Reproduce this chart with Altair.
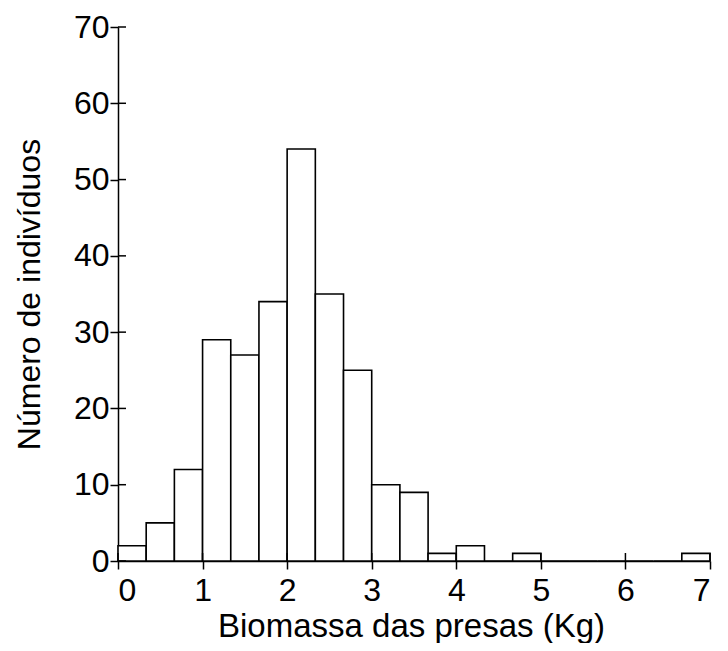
import altair as alt
import pandas as pd

# Histogram bins (width 1/3 kg) and counts
bin_lo = [0, 1/3, 2/3, 1, 4/3, 5/3, 2, 7/3, 8/3, 3, 10/3, 11/3, 4, 13/3, 14/3,
          5, 16/3, 17/3, 6, 19/3, 20/3]
bin_hi = [1/3, 2/3, 1, 4/3, 5/3, 2, 7/3, 8/3, 3, 10/3, 11/3, 4, 13/3, 14/3, 5,
          16/3, 17/3, 6, 19/3, 20/3, 7]
counts = [2, 5, 12, 29, 27, 34, 54, 35, 25, 10, 9, 1, 2, 0, 1,
          0, 0, 0, 0, 0, 1]

x_ticks = [0, 1, 2, 3, 4, 5, 6, 7]
y_ticks = [0, 10, 20, 30, 40, 50, 60, 70]

W, H = 592, 534
FONT = "Liberation Sans"

df = pd.DataFrame({"lo": bin_lo, "hi": bin_hi, "n": counts})
xt = pd.DataFrame({"v": x_ticks})
yt = pd.DataFrame({"v": y_ticks})

xscale = alt.Scale(domain=[0, 7], nice=False, zero=False)
yscale = alt.Scale(domain=[0, 70], nice=False)

xaxis = alt.Axis(values=x_ticks, title="Biomassa das presas (Kg)",
                 titleFontSize=33, titleX=293, titleY=75,
                 titleBaseline="alphabetic", titleAlign="center",
                 labelPadding=6)
yaxis = alt.Axis(values=y_ticks, title="Número de indivíduos",
                 titleFontSize=32, titleX=-79, titleY=H / 2,
                 titleAngle=-90, titleAlign="center",
                 titleBaseline="alphabetic", labelPadding=1)

bars = alt.Chart(df).mark_rect(
    fill="white", stroke="black", strokeWidth=1.6
).encode(
    x=alt.X("lo:Q", scale=xscale, axis=xaxis),
    x2="hi:Q",
    y=alt.Y("n:Q", scale=yscale, axis=yaxis),
    y2=alt.datum(0),
)

xin = alt.Chart(xt).mark_rule(color="black", strokeWidth=1.5).encode(
    x=alt.X("v:Q", scale=xscale, axis=xaxis),
    y=alt.value(H),
    y2=alt.value(H - 8),
)

yin = alt.Chart(yt).mark_rule(color="black", strokeWidth=1.5).encode(
    y=alt.Y("v:Q", scale=yscale, axis=yaxis),
    x=alt.value(0),
    x2=alt.value(8),
)

chart = alt.layer(bars, xin, yin).properties(
    width=W, height=H,
    autosize=alt.AutoSizeParams(type="none"),
    padding={"left": 110, "top": 19, "right": 10, "bottom": 82},
).configure_view(stroke=None).configure_axis(
    labelFont=FONT, titleFont=FONT, labelFontSize=32,
    labelColor="black", titleColor="black", titleFontWeight="normal",
    domainColor="black", domainWidth=1.5, tickColor="black", tickWidth=1.5,
    tickSize=8, grid=False,
)

chart.save("out.html", embed_options={"renderer": "svg", "actions": False})
